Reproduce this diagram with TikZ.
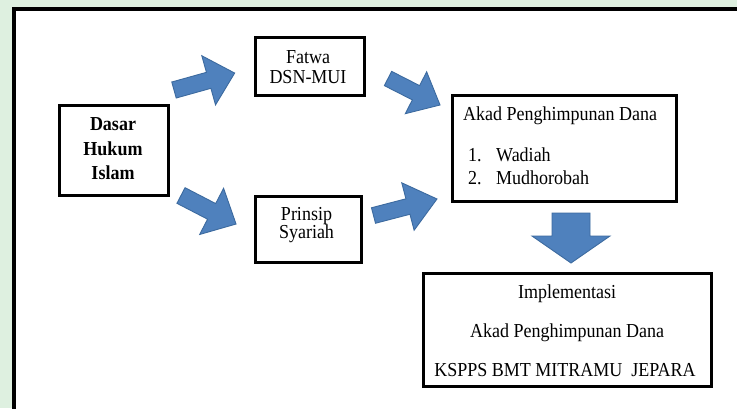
\documentclass[tikz,border=0pt]{standalone}
\usepackage{fontspec}
\usepackage{graphicx}
\setmainfont{Liberation Serif}
\definecolor{arrowfill}{HTML}{4F81BD}
\definecolor{arrowline}{HTML}{3C6A9F}
\definecolor{wmark}{RGB}{222,240,224}
\newcommand\st[1]{\scalebox{1}[1.1]{#1}}
\newcommand\blockarrowdraw[6]{%
  \begin{scope}[shift={(#1)},rotate=#2]
    \filldraw[barrow] (0,#4) -- ({#3-#6},#4) -- ({#3-#6},#5) -- (#3,0)
      -- ({#3-#6},-#5) -- ({#3-#6},-#4) -- (0,-#4) -- cycle;
  \end{scope}}
\begin{document}
\begin{tikzpicture}[x=1pt,y=-1pt,
  box/.style={draw,line width=3.2pt,inner sep=0pt},
  txt/.style={font=\fontsize{18}{22}\selectfont,inner sep=0pt,anchor=base},
  txtw/.style={txt,anchor=base west},
  txtb/.style={txt,font=\fontsize{18}{22}\selectfont\bfseries},
  barrow/.style={fill=arrowfill,draw=arrowline,line width=0.9pt,line join=miter}]
\useasboundingbox (0,0) rectangle (737,408);
\clip (0,0) rectangle (737,408);
\fill[wmark] (0,0) rectangle (737,408);
\fill[white] (14,8.7) rectangle (760,430);
\draw[line width=4pt] (760,8.7) -- (14,8.7) -- (14,430);

% boxes
\node[box,minimum width=109pt,minimum height=90pt] (dasar) at (114,150.5) {};
\node[box,minimum width=109pt,minimum height=58pt] (fatwa) at (310,66.5) {};
\node[box,minimum width=224pt,minimum height=106pt] (akad) at (564.5,148.5) {};
\node[box,minimum width=106pt,minimum height=66pt] (prinsip) at (308.5,229.5) {};
\node[box,minimum width=288pt,minimum height=113pt] (impl) at (567.5,330) {};

% texts
\node[txtb] (d1) at (113,130.7) {\st{Dasar}};
\node[txtb] (d2) at (113,155) {\st{Hukum}};
\node[txtb] (d3) at (113,179.3) {\st{Islam}};
\node[txt] (f1) at (308,63.3) {\st{Fatwa}};
\node[txt] (f2) at (308,83.3) {\st{DSN-MUI}};
\node[txt] (p1) at (306.5,220) {\st{Prinsip}};
\node[txt] (p2) at (306.5,238) {\st{Syariah}};
\node[txtw] (a0) at (463,120.5) {\st{Akad Penghimpunan Dana}};
\node[txtw] (a1n) at (468,161) {\st{1.}};
\node[txtw] (a1) at (496,161) {\st{Wadiah}};
\node[txtw] (a2n) at (468,184) {\st{2.}};
\node[txtw] (a2) at (496,184) {\st{Mudhorobah}};
\node[txt] (i1) at (567,298) {\st{Implementasi}};
\node[txt] (i2) at (567,337.7) {\st{Akad Penghimpunan Dana}};
\node[txt] (i3) at (565,376.7) {\st{KSPPS BMT MITRAMU\ \ JEPARA}};

% block arrows
\coordinate (t1) at (174,90);
\coordinate (t2) at (388,78.5);
\coordinate (t3) at (181,195.5);
\coordinate (t4) at (373.5,215.5);
\coordinate (t5) at (571,213);
\blockarrowdraw{t1}{15.6}{63}{8.3}{25.5}{27}
\blockarrowdraw{t2}{-27}{58.4}{8}{23.5}{27}
\blockarrowdraw{t3}{-27.4}{62}{8.8}{26}{27.5}
\blockarrowdraw{t4}{14.6}{65.6}{8}{24.5}{30}
\blockarrowdraw{t5}{-90}{50}{19}{39}{27}
\end{tikzpicture}
\end{document}
